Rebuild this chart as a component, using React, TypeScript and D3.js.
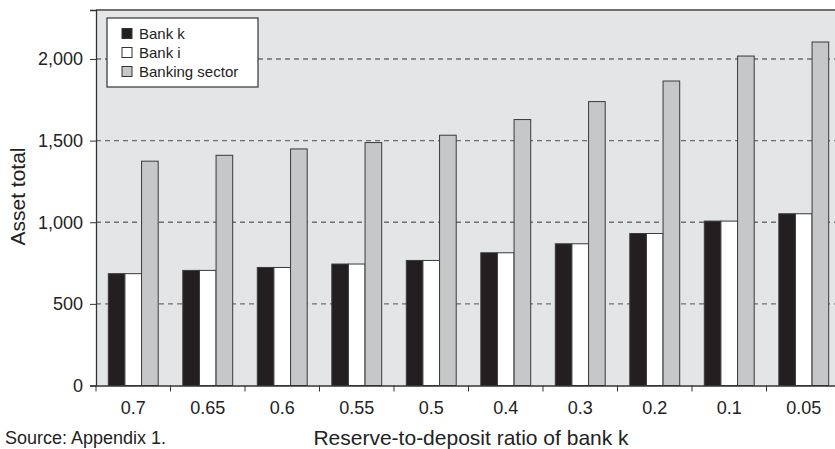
import { useEffect, useRef } from "react"
import * as d3 from "d3"

const categories = ["0.7", "0.65", "0.6", "0.55", "0.5", "0.4", "0.3", "0.2", "0.1", "0.05"]
const bankK = [685, 705, 723, 744, 766, 813, 868, 931, 1007, 1052]
const bankI = [685, 705, 723, 744, 766, 813, 868, 931, 1007, 1052]
const bankingSector = [1374, 1410, 1449, 1488, 1533, 1629, 1739, 1865, 2018, 2104]
const seriesNames = ["Bank k", "Bank i", "Banking sector"]
const yTicks = [0, 500, 1000, 1500, 2000]

const fills = ["#231f20", "#ffffff", "#c6c7c9"]
const font = "Liberation Sans, Arial, sans-serif"

export default function App() {
  const svgRef = useRef<SVGSVGElement>(null)

  useEffect(() => {
    if (!svgRef.current) return
    d3.select(svgRef.current).selectAll("*").remove()

    const width = 835
    const height = 449
    const margin = { top: 10, left: 96 }
    const plotW = 745
    const plotH = 375.5

    const svg = d3.select(svgRef.current).attr("width", width).attr("height", height)
    const g = svg.append("g").attr("transform", `translate(${margin.left},${margin.top})`)

    const x = d3.scaleBand().domain(categories).range([0, plotW]).paddingInner(0).paddingOuter(0)
    const x1 = d3.scaleBand().domain(seriesNames).range([12.3, x.bandwidth() - 12.3])
    const y = d3.scaleLinear().domain([0, 2300]).range([plotH, 0])

    // plot background
    g.append("rect")
      .attr("width", plotW)
      .attr("height", plotH)
      .attr("fill", "#e4e5e7")

    // dashed grid lines
    g.append("g")
      .selectAll("line")
      .data(yTicks.filter((d) => d > 0))
      .enter()
      .append("line")
      .attr("x1", 0)
      .attr("x2", plotW)
      .attr("y1", (d) => y(d))
      .attr("y2", (d) => y(d))
      .attr("stroke", "#6d6e70")
      .attr("stroke-width", 1.3)
      .attr("stroke-dasharray", "5,4")

    // bars
    const data = categories.map((c, i) => ({
      cat: c,
      values: [bankK[i], bankI[i], bankingSector[i]],
    }))

    const groups = g
      .selectAll(".grp")
      .data(data)
      .enter()
      .append("g")
      .attr("transform", (d) => `translate(${x(d.cat)},0)`)

    groups
      .selectAll("rect")
      .data((d) => d.values.map((v, j) => ({ v, name: seriesNames[j], j })))
      .enter()
      .append("rect")
      .attr("x", (d) => x1(d.name) || 0)
      .attr("y", (d) => y(d.v))
      .attr("width", x1.bandwidth())
      .attr("height", (d) => plotH - y(d.v))
      .attr("fill", (d) => fills[d.j])
      .attr("stroke", "#3a3a3c")
      .attr("stroke-width", 1)

    // top border and axes
    g.append("line")
      .attr("x1", 0)
      .attr("x2", plotW)
      .attr("y1", 0)
      .attr("y2", 0)
      .attr("stroke", "#444")
      .attr("stroke-width", 1.5)

    const yAxis = g
      .append("g")
      .call(
        d3
          .axisLeft(y)
          .tickValues(yTicks)
          .tickSize(6)
          .tickPadding(7)
          .tickFormat((d) => d3.format(",")(d as number)),
      )
    yAxis.select(".domain").attr("stroke", "#333").attr("stroke-width", 1.3)
    yAxis.selectAll("line").attr("stroke", "#333")
    yAxis.selectAll("text").attr("font-size", "18px").attr("font-family", font).attr("fill", "#222")

    const xAxis = g
      .append("g")
      .attr("transform", `translate(0,${plotH})`)
      .call(d3.axisBottom(x).tickSize(0).tickPadding(16))
    xAxis.select(".domain").attr("stroke", "#333").attr("stroke-width", 1.3)
    xAxis.selectAll("text").attr("font-size", "18px").attr("font-family", font).attr("fill", "#222")

    // x ticks at band boundaries
    g.append("g")
      .selectAll("line")
      .data(categories)
      .enter()
      .append("line")
      .attr("x1", (d) => x(d) || 0)
      .attr("x2", (d) => x(d) || 0)
      .attr("y1", plotH)
      .attr("y2", plotH + 6)
      .attr("stroke", "#333")

    // legend
    const legend = svg.append("g").attr("transform", "translate(107,18)")
    legend
      .append("rect")
      .attr("width", 151)
      .attr("height", 69)
      .attr("fill", "#fff")
      .attr("stroke", "#333")
      .attr("stroke-width", 1.2)
    seriesNames.forEach((name, i) => {
      const row = legend.append("g").attr("transform", `translate(15,${15.5 + i * 19})`)
      row
        .append("rect")
        .attr("x", 0)
        .attr("y", -5)
        .attr("width", 10)
        .attr("height", 10)
        .attr("fill", fills[i])
        .attr("stroke", "#333")
      row
        .append("text")
        .attr("x", 17)
        .attr("y", 0)
        .attr("dy", "0.35em")
        .attr("font-size", "15px")
        .attr("font-family", font)
        .attr("fill", "#222")
        .text(name)
    })

    // axis titles
    svg
      .append("text")
      .attr("transform", "translate(25,196.5) rotate(-90)")
      .attr("text-anchor", "middle")
      .attr("font-size", "21px")
      .attr("font-family", font)
      .attr("fill", "#222")
      .text("Asset total")

    svg
      .append("text")
      .attr("x", 471)
      .attr("y", 445)
      .attr("text-anchor", "middle")
      .attr("font-size", "21px")
      .attr("font-family", font)
      .attr("fill", "#222")
      .text("Reserve-to-deposit ratio of bank k")

    svg
      .append("text")
      .attr("x", 5)
      .attr("y", 444)
      .attr("font-size", "18px")
      .attr("font-family", font)
      .attr("fill", "#222")
      .text("Source: Appendix 1.")
  }, [])

  return (
    <div style={{ position: "absolute", left: 0, top: 0, width: 835, height: 449, overflow: "hidden", background: "#fff" }}>
      <svg ref={svgRef} style={{ display: "block" }}></svg>
    </div>
  )
}
